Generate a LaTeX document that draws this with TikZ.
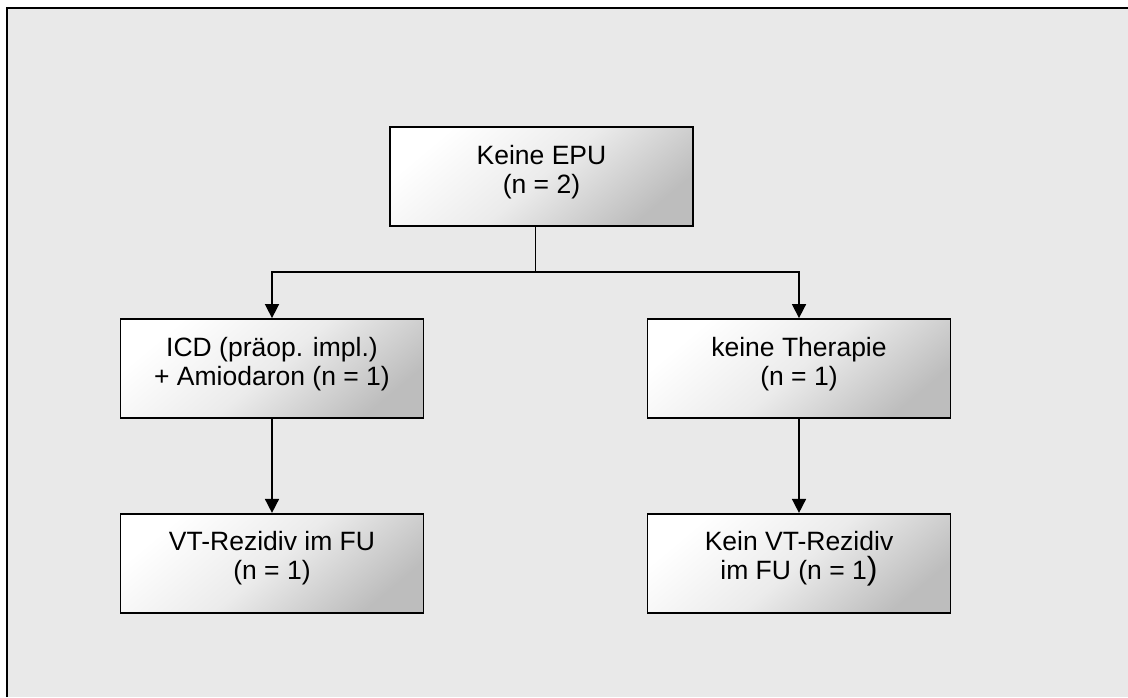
\documentclass[tikz,border=0pt]{standalone}
\usepackage{fontspec}
\setmainfont{Liberation Sans}
\usetikzlibrary{arrows.meta, positioning}
\definecolor{panelgray}{HTML}{E9E9E9}
\definecolor{boxshade}{HTML}{BDBDBD}

\begin{document}
\begin{tikzpicture}[
      x = 0.5pt, y = -0.5pt,
      font = \fontsize{13.25}{14.5}\selectfont,
      flowbox/.style={
        draw = black,
        line width = 0.9pt,
        top color = white,
        bottom color = boxshade,
        middle color = white!70!boxshade,
        shading angle = 40,
        align = center,
        inner sep = 0pt,
        text depth = 7.5pt,
        minimum width = 151.5pt,
        minimum height = 49.5pt,
      },
      flowarrow/.style={
        -{Triangle[width = 7pt, length = 7pt]},
        line width = 0.8pt,
      },
    ]
    % panel
    \useasboundingbox (0,0) rectangle (1128,697);
    \fill[panelgray] (7,8) rectangle (1128,697);
    \draw[line width = 1.2pt] (7,697) -- (7,8) -- (1128,8);

    \node[flowbox] (epu) at (541.5,176.5) {Keine EPU\\(n = 2)};
    \node[flowbox] (icd) at (272,368.5)
      {ICD (präop. impl.)\\+ Amiodaron (n = 1)};
    \node[flowbox] (nother) at (799,368.5) {keine Therapie\\(n = 1)};
    \node[flowbox, below = 47pt of icd] (rezidiv)
      {VT-Rezidiv im FU\\(n = 1)};
    \node[flowbox, below = 47pt of nother] (norezidiv)
      {Kein VT-Rezidiv\\im FU (n = 1{\fontsize{16}{14.5}\selectfont )}};

    \coordinate (split) at (535.5,272);
    \draw[line width = 0.8pt] (epu.south -| split) -- (split);
    \draw[flowarrow] (split) -| (icd.north);
    \draw[flowarrow] (split) -| (nother.north);
    \draw[flowarrow] (icd) -- (rezidiv);
    \draw[flowarrow] (nother) -- (norezidiv);
  \end{tikzpicture}
\end{document}
